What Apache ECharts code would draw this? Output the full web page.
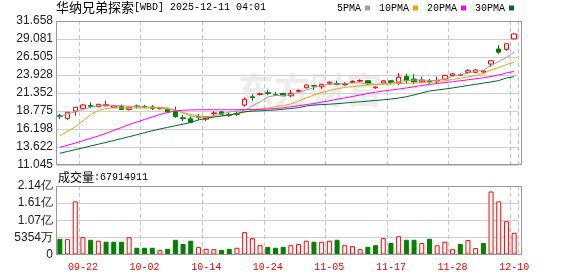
<!DOCTYPE html>
<html><head><meta charset="utf-8">
<script src="https://cdn.jsdelivr.net/npm/echarts@6/dist/echarts.min.js"></script>
<style>html,body{margin:0;padding:0;background:#fff}#c{width:578px;height:276px}</style>
</head><body><div id="c"></div>
<script>
// ---------------- data ----------------
const dates = ['09-17','09-18','09-19','09-22','09-23','09-24','09-25','09-26','09-29','09-30',
'10-01','10-02','10-03','10-06','10-07','10-08','10-09','10-10','10-13','10-14',
'10-15','10-16','10-17','10-20','10-21','10-22','10-23','10-24','10-27','10-28',
'10-29','10-30','10-31','11-03','11-04','11-05','11-06','11-07','11-10','11-11',
'11-12','11-13','11-14','11-17','11-18','11-19','11-20','11-21','11-24','11-25',
'11-26','11-28','12-01','12-02','12-03','12-04','12-05','12-08','12-09','12-10'];
const xLabels = ['09-22','10-02','10-14','10-24','11-05','11-17','11-28','12-10'];

const opens = [18.10,17.73,18.77,19.16,19.55,19.40,19.50,19.30,19.40,19.00,
19.50,19.45,19.35,19.10,19.05,18.77,17.80,17.65,17.95,17.60,
18.40,18.65,18.25,18.40,19.63,20.80,21.15,21.40,21.10,21.30,
20.95,21.60,22.10,22.40,22.25,22.75,22.70,22.55,22.85,23.05,
23.10,22.10,22.80,23.10,22.80,23.70,23.35,22.95,23.00,23.10,
23.35,23.85,23.90,24.30,24.30,24.35,25.50,27.65,27.60,29.10];
const closes = [18.02,18.59,19.30,19.63,19.45,19.73,19.70,19.50,19.00,19.30,
19.40,19.35,19.15,19.20,18.65,17.96,17.70,17.15,17.85,17.95,
18.50,18.30,18.15,18.30,20.45,20.70,21.25,21.30,21.05,20.95,
21.30,21.70,22.50,22.35,22.60,22.90,22.60,22.65,23.00,23.15,
22.65,22.20,23.10,22.85,23.60,23.10,22.95,23.20,22.95,23.15,
23.85,24.10,24.00,24.55,24.65,24.50,25.97,27.20,28.40,29.80];
const lows = [17.63,17.49,18.10,19.10,19.16,19.30,19.45,19.25,18.90,18.85,
19.10,19.20,18.90,19.00,18.60,17.80,17.35,17.05,17.50,17.35,
18.05,18.20,17.90,18.05,19.40,20.25,21.00,21.05,20.95,20.95,
20.75,21.45,22.00,21.80,21.95,22.50,22.45,22.40,22.75,22.90,
22.50,21.95,22.75,22.60,22.50,22.70,22.60,22.75,22.70,22.75,
23.30,23.80,23.80,24.10,24.20,24.20,25.10,26.95,27.40,29.05];
const highs = [18.35,18.62,19.35,19.80,20.00,19.80,20.25,19.60,19.70,19.40,
19.70,19.60,19.60,19.30,19.15,19.40,18.20,18.05,18.35,18.05,
18.75,18.75,18.60,18.70,20.70,21.20,21.40,21.80,21.50,21.30,
21.80,21.85,22.60,22.40,22.65,23.00,23.10,22.90,23.15,23.30,
23.15,22.30,23.20,23.20,24.20,24.10,24.05,23.70,23.35,23.70,
23.90,24.20,24.15,24.75,24.75,24.65,26.00,28.20,28.45,29.90];

const ma5 = [17.99,18.35,18.68,18.99,19.31,19.52,19.63,19.59,19.53,19.46,
19.39,19.35,19.31,19.31,19.21,18.92,18.49,18.06,17.87,17.87,
18.13,18.35,18.63,18.77,18.85,19.49,20.11,20.78,20.99,20.99,
21.14,21.42,21.78,22.14,22.43,22.57,22.64,22.71,22.78,22.78,
22.71,22.60,22.64,22.78,23.00,23.14,23.21,23.21,23.14,23.14,
23.43,23.71,24.00,24.20,24.45,24.60,25.30,25.85,26.45,27.18];
const ma10 = [15.20,15.91,16.49,17.34,18.27,18.85,19.13,19.21,19.21,19.21,
19.21,19.21,19.21,19.21,19.06,18.85,18.56,18.27,18.06,17.92,
17.92,18.06,18.20,18.42,18.59,18.85,19.02,19.21,19.38,19.56,
19.78,20.21,20.64,21.07,21.42,21.71,21.95,22.14,22.28,22.38,
22.50,22.57,22.60,22.64,22.70,22.74,22.78,22.84,22.90,22.96,
23.10,23.28,23.47,23.64,23.86,24.14,24.64,25.00,25.43,25.75];
const ma20 = [13.58,13.87,14.19,14.51,14.87,15.20,15.58,16.01,16.41,16.84,
17.20,17.56,17.92,18.27,18.56,18.78,18.88,18.92,18.95,18.95,
18.95,18.95,18.95,18.95,18.99,18.99,19.02,19.06,19.13,19.23,
19.38,19.53,19.69,19.85,20.04,20.24,20.45,20.65,20.85,21.07,
21.28,21.47,21.64,21.78,21.92,22.07,22.24,22.43,22.57,22.71,
22.84,22.96,23.10,23.24,23.39,23.53,23.71,23.93,24.22,24.43];
const ma30 = [12.72,12.98,13.24,13.49,13.77,14.02,14.28,14.55,14.82,15.10,
15.37,15.67,15.94,16.20,16.43,16.66,16.89,17.13,17.49,17.73,
17.92,18.06,18.20,18.42,18.68,18.75,18.80,18.86,18.92,19.02,
19.12,19.26,19.49,19.63,19.69,19.75,19.83,19.92,20.01,20.09,
20.18,20.28,20.38,20.49,20.64,20.82,21.07,21.35,21.64,21.78,
21.92,22.07,22.25,22.43,22.60,22.78,22.93,23.14,23.50,23.69];

const volumes = [49000000,48000000,166000000,54000000,46000000,43000000,40000000,40000000,40000000,54000000,
21000000,21000000,21000000,13500000,17700000,46000000,33000000,43000000,23000000,17700000,
16600000,14500000,17700000,21000000,70000000,51000000,29000000,24000000,21000000,24000000,
29000000,33000000,43000000,40000000,40000000,43000000,46000000,29000000,26000000,16600000,
24000000,29000000,51000000,36000000,57000000,46000000,46000000,36000000,49000000,29000000,
40000000,16600000,33000000,45000000,20000000,36000000,197000000,166000000,104000000,67914911];
const volUp = [0,1,1,1,0,1,0,0,0,1, 0,0,0,1,0,0,0,0,1,1, 1,0,0,1,1,1,1,0,0,0,
1,1,1,0,1,1,0,1,1,1, 0,0,1,0,1,0,0,1,0,1, 1,1,0,1,1,0,1,1,1,1];

const priceMin = 11.045, priceMax = 31.658, priceStep = 2.576625;
const priceTicks = ['11.045','13.622','16.198','18.775','21.352','23.928','26.505','29.081','31.658'];
const volMax = 214160000, volStep = 53540000;
const volTicks = ['0','5354万','1.07亿','1.61亿','2.14亿'];

const stockName = '华纳兄弟探索';
const stockCode = '[WBD] 2025-12-11 04:01';

// ---------------- chart ----------------
const UP = '#ff0000', DOWN = '#008000';
const candleData = opens.map((o, i) => [o, closes[i], lows[i], highs[i]]);
const volData = volumes.map((v, i) => ({
  value: v,
  itemStyle: volUp[i] ? {color: '#ffffff', borderColor: UP, borderWidth: 1}
                      : {color: DOWN, borderColor: DOWN, borderWidth: 1}
}));
const isLabel = (idx, val) => xLabels.indexOf(val) >= 0;
const monoFont = 'Liberation Mono';
const labelColor = '#222';

const chart = echarts.init(document.getElementById('c'), null, {renderer: 'canvas'});
chart.setOption({
  animation: false,
  backgroundColor: '#fff',
  title: [{
    left: 56, top: 1, padding: 0,
    text: '{a|' + stockName + '}{b|' + stockCode + '}',
    textStyle: {fontWeight: 'normal', rich: {
      a: {fontFamily: 'Noto Sans CJK SC', fontSize: 13, fontWeight: 'normal', color: '#000'},
      b: {fontFamily: monoFont, fontSize: 10, fontWeight: 'normal', color: '#000'}
    }}
  }, {
    left: 58, top: 171, padding: 0,
    text: '{a|成交量}{b|:' + volumes[volumes.length - 1] + '}',
    textStyle: {fontWeight: 'normal', rich: {
      a: {fontFamily: 'Noto Sans CJK SC', fontSize: 12, fontWeight: 'normal', color: '#000'},
      b: {fontFamily: monoFont, fontSize: 10, fontWeight: 'normal', color: '#000'}
    }}
  }],
  legend: {
    data: ['5PMA', '10PMA', '20PMA', '30PMA'],
    left: 337, top: 3, padding: 0,
    align: 'right', icon: 'rect', itemWidth: 5, itemHeight: 5, itemGap: 9,
    selectedMode: false,
    textStyle: {fontFamily: monoFont, fontSize: 10, fontWeight: 'normal', color: '#000', padding: [0, -1, 0, 0]}
  },
  graphic: [
    {type: 'text', silent: true, z: 0, left: 238, top: 72,
     style: {text: '东方财富', font: 'bold 36px "Noto Sans CJK SC"', fill: '#ececec'}},
    {type: 'rect', silent: true, z: 100, shape: {x: 56.5, y: 21.5, width: 465, height: 143},
     style: {fill: 'none', stroke: '#999', lineWidth: 1}},
    {type: 'rect', silent: true, z: 100, shape: {x: 56.5, y: 186.5, width: 465, height: 68},
     style: {fill: 'none', stroke: '#999', lineWidth: 1}}
  ],
  grid: [
    {left: 56, top: 21, width: 462, height: 144},
    {left: 56, top: 186, width: 462, height: 68.5}
  ],
  xAxis: [{
    gridIndex: 0, type: 'category', data: dates, boundaryGap: true,
    axisLine: {show: false}, axisTick: {show: false}, axisLabel: {show: false},
    splitLine: {show: true, interval: isLabel, lineStyle: {color: '#c8c8c8', type: [4, 3], width: 1}}
  }, {
    gridIndex: 1, type: 'category', data: dates, boundaryGap: true,
    axisLine: {show: false}, axisTick: {show: false},
    axisLabel: {show: true, interval: isLabel, color: '#ff0000', fontFamily: monoFont, fontSize: 10, margin: 8},
    splitLine: {show: true, interval: isLabel, lineStyle: {color: '#c8c8c8', type: [4, 3], width: 1}}
  }],
  yAxis: [{
    gridIndex: 0, type: 'value', min: priceMin, max: priceMax, interval: priceStep,
    axisLine: {show: false}, axisTick: {show: false},
    axisLabel: {color: labelColor, fontFamily: 'Liberation Sans', fontSize: 12, margin: 3,
      formatter: v => priceTicks[Math.round((v - priceMin) / priceStep)]},
    splitLine: {lineStyle: {color: '#d0d0d0', width: 1}}
  }, {
    gridIndex: 1, type: 'value', min: 0, max: volMax, interval: volStep,
    axisLine: {show: false}, axisTick: {show: false},
    axisLabel: {color: labelColor, fontFamily: 'Liberation Sans', fontSize: 12, margin: 3,
      formatter: v => volTicks[Math.round(v / volStep)]},
    splitLine: {lineStyle: {color: '#d0d0d0', width: 1}}
  }],
  series: [{
    name: 'K', type: 'candlestick', xAxisIndex: 0, yAxisIndex: 0, data: candleData,
    barWidth: 5,
    itemStyle: {color: '#ffffff', color0: DOWN, borderColor: UP, borderColor0: DOWN, borderWidth: 1}
  },
  {name: '5PMA', type: 'line', data: ma5, showSymbol: false, symbol: 'none', color: '#a0a0a0', lineStyle: {width: 1, color: '#a0a0a0'}, z: 3},
  {name: '10PMA', type: 'line', data: ma10, showSymbol: false, symbol: 'none', color: '#f5a300', lineStyle: {width: 1, color: '#f5a300'}, z: 3},
  {name: '20PMA', type: 'line', data: ma20, showSymbol: false, symbol: 'none', color: '#ff00ff', lineStyle: {width: 1, color: '#ff00ff'}, z: 3},
  {name: '30PMA', type: 'line', data: ma30, showSymbol: false, symbol: 'none', color: '#006633', lineStyle: {width: 1, color: '#006633'}, z: 3},
  {name: 'VOL', type: 'bar', xAxisIndex: 1, yAxisIndex: 1, data: volData, barWidth: 5}
  ]
});
</script>
</body></html>
